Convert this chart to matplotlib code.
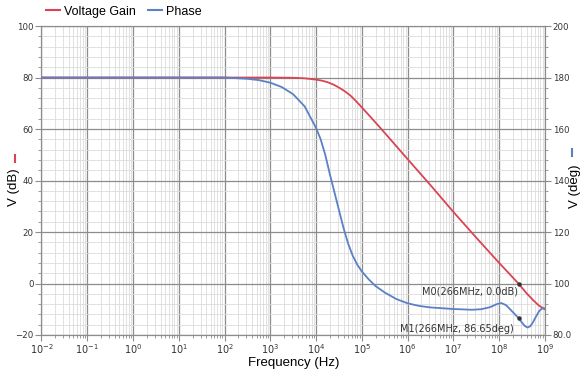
import numpy as np
import matplotlib
matplotlib.use("Agg")
import matplotlib.pyplot as plt
from matplotlib.lines import Line2D
from matplotlib.ticker import LogLocator, MultipleLocator, NullFormatter, FixedLocator

# Ganancia (dB), frecuencia en log10(Hz)
gain_logf = [-2, 2, 3, 3.5, 3.75, 4.0, 4.125, 4.25, 4.375, 4.5, 4.625, 4.75, 4.875, 5.0, 5.25, 5.5, 6.0, 6.5,
             7.0, 7.5, 8.0, 8.2, 8.42, 8.6, 8.75, 8.87, 9.0]
gain_db = [80, 80, 80, 79.9, 79.7, 79.2, 78.8, 78.2, 77.3, 76.1, 74.7, 73.0, 70.8, 68.4, 63.5, 58.5, 48.3, 38.2,
           27.8, 17.8, 8.0, 4.2, 0.0, -3.8, -6.6, -8.6, -10.0]

# Fase (deg)
phase_logf = [-2, 2, 2.5, 2.75, 3.0, 3.25, 3.5, 3.75, 4.0, 4.1, 4.2, 4.3, 4.4, 4.5, 4.6, 4.7, 4.8, 4.9, 5.0,
              5.15, 5.3, 5.5, 5.75, 6.0, 6.25, 6.5, 7.0, 7.4, 7.6, 7.8, 7.95, 8.05, 8.15, 8.25, 8.33, 8.42,
              8.5, 8.56, 8.62, 8.68, 8.74, 8.8, 8.87, 8.93, 9.0]
phase_deg = [180, 180, 179.5, 179.0, 178.0, 176.3, 173.5, 168.8, 160.4, 156.0, 150.0, 142.5, 135.5, 128.5,
             121.5, 115.5, 110.8, 107.3, 104.7, 101.6, 99.0, 96.5, 94.0, 92.3, 91.3, 90.7, 90.1, 89.8, 90.0,
             90.8, 92.0, 92.4, 91.6, 89.8, 88.3, 86.65, 84.8, 83.5, 82.9, 83.4, 85.0, 87.0, 89.2, 90.2, 90.4]

decadas = list(range(-2, 10))

red = "#d94452"
blue = "#5b80c6"

fig = plt.figure(figsize=(5.82, 3.70), dpi=100)
ax = fig.add_axes([0.0713, 0.0946, 0.865, 0.835])
ax2 = ax.twinx()

ax.set_xscale("log")
ax.set_xlim(1e-2, 1e9)
ax.set_ylim(-20, 100)
ax2.set_ylim(80, 200)

# rejilla
ax.xaxis.set_major_locator(FixedLocator([10.0 ** d for d in decadas]))
ax.xaxis.set_minor_locator(LogLocator(base=10, subs=np.arange(2, 10), numticks=200))
ax.xaxis.set_minor_formatter(NullFormatter())
ax.yaxis.set_major_locator(MultipleLocator(20))
ax.yaxis.set_minor_locator(MultipleLocator(4))
ax2.yaxis.set_minor_locator(MultipleLocator(4))
ax.grid(which="major", color="#8c8c8c", linewidth=0.9)
ax.grid(which="minor", color="#dcdcdc", linewidth=0.6)
ax.set_axisbelow(True)

ax.plot(10.0 ** np.array(gain_logf), gain_db, color=red, linewidth=1.3, zorder=3)
ax2.plot(10.0 ** np.array(phase_logf), phase_deg, color=blue, linewidth=1.3, zorder=3)

# marcadores
ax.plot([2.66e8], [0.0], "o", color="#333333", markersize=2.2, zorder=4)
ax2.plot([2.66e8], [86.65], "o", color="#333333", markersize=2.2, zorder=4)
ax.text(2.55e8, -3.2, "M0(266MHz, 0.0dB)", fontsize=7, ha="right", va="center", color="#333333", family="DejaVu Sans")
ax2.text(2.1e8, 82.5, "M1(266MHz, 86.65deg)", fontsize=7, ha="right", va="center", color="#333333", family="DejaVu Sans")

for a in (ax, ax2):
    for s in a.spines.values():
        s.set_color("#8c8c8c")
    a.tick_params(which="both", colors="#8c8c8c", labelcolor="#333333", direction="out")
    a.tick_params(which="major", length=4, pad=1.5)
    a.tick_params(which="minor", length=2)
ax.tick_params(axis="x", labelsize=7)
ax.tick_params(axis="y", labelsize=6.2)
ax2.tick_params(axis="y", labelsize=6.2)

ax.set_xticklabels([f"$10^{{{d}}}$" for d in decadas])
ax.set_yticks([-20, 0, 20, 40, 60, 80, 100])
ax2.set_yticks([80, 100, 120, 140, 160, 180, 200])
ax2.set_yticklabels(["80.0", "100", "120", "140", "160", "180", "200"])

ax.set_xlabel("Frequency (Hz)", fontsize=9.5, family="Liberation Sans", labelpad=0.5)
ax.set_ylabel("V (dB)", fontsize=9.5, family="Liberation Sans")
ax2.set_ylabel("V (deg)", fontsize=9.5, family="Liberation Sans", rotation=90)
ax.yaxis.set_label_coords(-0.042, 0.48)
ax2.yaxis.set_label_coords(1.047, 0.48)

# marcas de color junto a las etiquetas
fig.add_artist(Line2D([0.0265, 0.0265], [0.563, 0.582], color=red, linewidth=1.5))
fig.add_artist(Line2D([0.982, 0.982], [0.578, 0.597], color=blue, linewidth=1.5))

# leyenda
h1 = Line2D([], [], color=red, linewidth=1.5)
h2 = Line2D([], [], color=blue, linewidth=1.5)
fig.legend([h1, h2], ["Voltage Gain", "Phase"], loc="upper left", bbox_to_anchor=(0.06, 1.015),
           ncol=2, frameon=False, handlelength=1.1, handletextpad=0.3, columnspacing=1.0,
           prop={"family": "Liberation Sans", "size": 9})

fig.savefig("out.png", dpi=100)
